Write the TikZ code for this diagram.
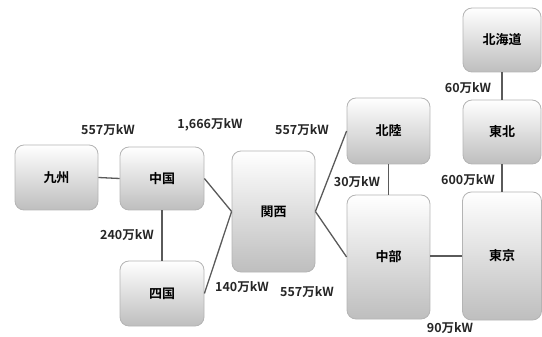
\documentclass[tikz,border=0pt]{standalone}
\usepackage{fontspec}
\setmainfont{Noto Sans CJK JP}[BoldFont={Noto Sans CJK JP Bold}]
\definecolor{boxedge}{HTML}{B4B4B4}
\definecolor{boxbot}{HTML}{BEBEBE}
\definecolor{linec}{HTML}{5A5A5A}
\tikzset{
  region/.style={draw=boxedge, line width=0.8pt, rounded corners=9pt,
    top color=white, bottom color=boxbot, font=\bfseries\fontsize{13}{13}\selectfont,
    inner sep=0pt},
  caplabel/.style={font=\bfseries\fontsize{12.5}{13}\selectfont, inner sep=0pt, text=black!85},
  link/.style={draw=linec, line width=1.3pt}
}
\begin{document}
\begin{tikzpicture}[x=1pt,y=-1pt]
\useasboundingbox (0,0) rectangle (542,337);
\node[region, minimum width=83pt, minimum height=65pt] (kyushu) at (56.5,177.5) {九州};
\node[region, minimum width=84pt, minimum height=63pt] (chugoku) at (162,178.5) {中国};
\node[region, minimum width=84pt, minimum height=65pt] (shikoku) at (162,293.5) {四国};
\node[region, minimum width=83pt, minimum height=121pt] (kansai) at (273.5,211.5) {関西};
\node[region, minimum width=83pt, minimum height=66pt] (hokuriku) at (388.5,131) {北陸};
\node[region, minimum width=83pt, minimum height=124pt] (chubu) at (388.5,257) {中部};
\node[region, minimum width=78pt, minimum height=64pt] (hokkaido) at (502,40) {北海道};
\node[region, minimum width=78pt, minimum height=64pt] (tohoku) at (502,132) {東北};
\node[region, minimum width=79pt, minimum height=128pt] (tokyo) at (502,256) {東京};

\draw[link] (kyushu.east) -- (chugoku.west);
\draw[link] (chugoku.south) -- (shikoku.north);
\draw[link] (chugoku.east) -- (kansai.west);
\draw[link] (shikoku.east) -- (kansai.west);
\draw[link] (kansai.east) -- (hokuriku.west);
\draw[link] (kansai.east) -- (chubu.west);
\draw[link] (hokuriku.south) -- (chubu.north);
\draw[link] (chubu.east |- tokyo.west) -- (tokyo.west);
\draw[link] (hokkaido.south) -- (tohoku.north);
\draw[link] (tohoku.south) -- (tokyo.north);

\node[caplabel] (l1) at (108,130) {557万kW};
\node[caplabel] (l2) at (210,125) {1,666万kW};
\node[caplabel] (l3) at (127,235) {240万kW};
\node[caplabel] (l4) at (242,287) {140万kW};
\node[caplabel] (l5) at (307,292) {557万kW};
\node[caplabel] (l6) at (302,130) {557万kW};
\node[caplabel] (l7) at (357,182) {30万kW};
\node[caplabel] (l8) at (468,180) {600万kW};
\node[caplabel] (l9) at (468,88) {60万kW};
\node[caplabel] (l10) at (450,328) {90万kW};
\end{tikzpicture}
\end{document}
